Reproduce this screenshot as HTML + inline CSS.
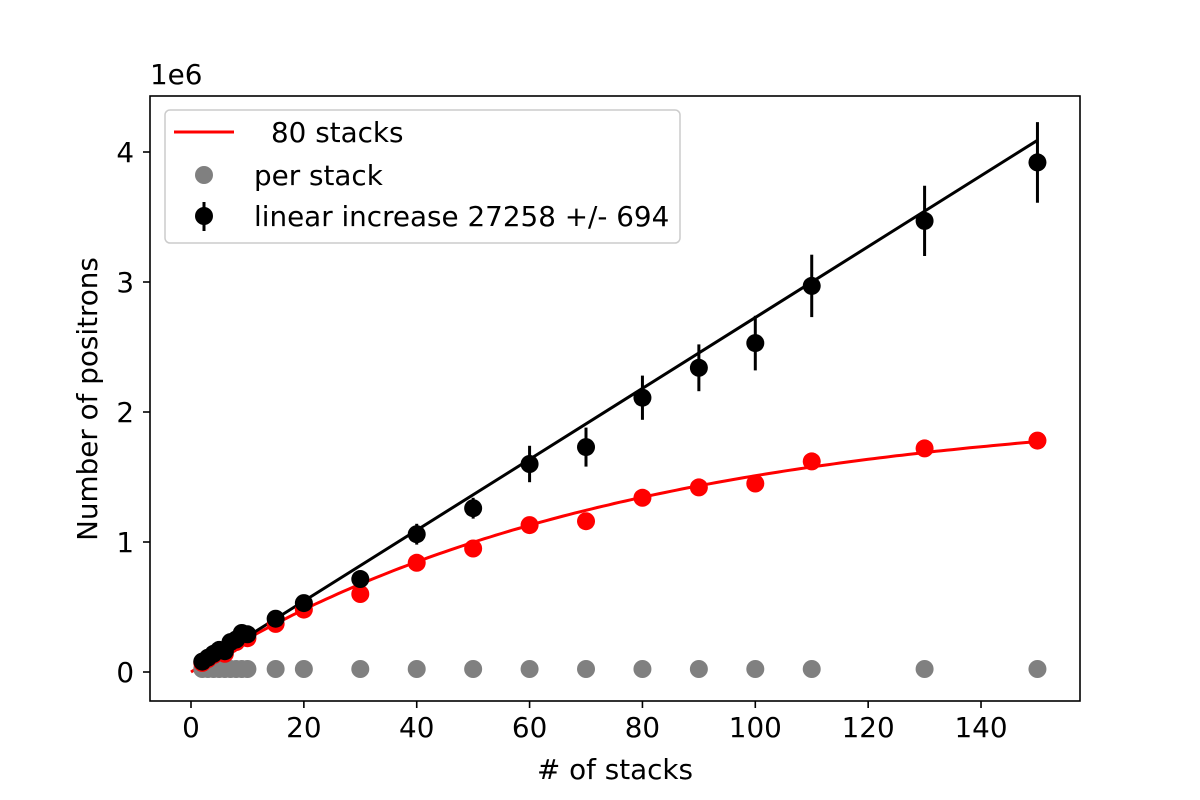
<!DOCTYPE html>
<html><head><meta charset="utf-8"><style>body{margin:0;background:#fff}svg{display:block}text{font-family:"DejaVu Sans","Liberation Sans",sans-serif;font-size:27.8px;fill:#000}</style></head>
<body>
<svg id="s" width="1200" height="800" xmlns="http://www.w3.org/2000/svg">
<rect width="1200" height="800" fill="#fff"/>
<g id="plot"></g>
<rect x="150" y="96" width="930" height="605" fill="none" stroke="#000" stroke-width="1.6"/>
<g id="ticks"></g>
<text x="150" y="84">1e6</text>
<text x="615" y="779" text-anchor="middle"># of stacks</text>
<text transform="translate(97,399) rotate(-90)" text-anchor="middle">Number of positrons</text>
<rect x="165" y="110" width="515" height="133" rx="5" fill="#fff" fill-opacity="0.85" stroke="#ccc" stroke-width="1.5"/>
<line x1="174" y1="132" x2="234" y2="132" stroke="red" stroke-width="3"/>
<text x="271" y="142">80 stacks</text>
<circle cx="204" cy="175" r="9" fill="gray"/>
<text x="254" y="185">per stack</text>
<circle cx="204" cy="216" r="9" fill="#000"/>
<line x1="204" y1="202" x2="204" y2="231" stroke="#000" stroke-width="3"/>
<text x="254" y="226">linear increase 27258 +/- 694</text>
</svg>
<script>
const X=x=>191+5.643*x, Y=v=>672-130*v;
const ns="http://www.w3.org/2000/svg";
const P=document.getElementById('plot'),T=document.getElementById('ticks');
function el(p,t,a){const e=document.createElementNS(ns,t);for(const k in a)e.setAttribute(k,a[k]);p.appendChild(e);return e;}
for(let x=0;x<=140;x+=20){el(T,'line',{x1:X(x),y1:701,x2:X(x),y2:708,stroke:'#000','stroke-width':1.6});const t=el(T,'text',{x:X(x),y:737,'text-anchor':'middle'});t.textContent=x;}
for(let v=0;v<=4;v++){el(T,'line',{x1:143,y1:Y(v),x2:150,y2:Y(v),stroke:'#000','stroke-width':1.6});const t=el(T,'text',{x:134,y:Y(v)+10,'text-anchor':'end'});t.textContent=v;}
let d='';for(let x=0;x<=150;x+=1){const v=2.05*(1-Math.exp(-x/75));d+=(x?'L':'M')+X(x).toFixed(1)+','+Y(v).toFixed(1);}
el(P,'path',{d:d,fill:'none',stroke:'red','stroke-width':3});
el(P,'line',{x1:X(2),y1:Y(0.055),x2:X(150),y2:Y(4.09),stroke:'#000','stroke-width':3});
const gx=[2,3,4,5,6,7,8,9,10,15,20,30,40,50,60,70,80,90,100,110,130,150];
gx.forEach(x=>el(P,'circle',{cx:X(x),cy:669,r:9,fill:'gray'}));
const red=[[2,0.07],[3,0.1],[4,0.13],[5,0.15],[6,0.14],[7,0.21],[8,0.23],[9,0.27],[10,0.26],[15,0.37],[20,0.48],[30,0.6],[40,0.84],[50,0.95],[60,1.13],[70,1.16],[80,1.34],[90,1.42],[100,1.45],[110,1.62],[130,1.72],[150,1.78]];
red.forEach(([x,v])=>el(P,'circle',{cx:X(x),cy:Y(v),r:9,fill:'red'}));
const blk=[[2,0.08,0.01],[3,0.11,0.01],[4,0.14,0.01],[5,0.17,0.02],[6,0.16,0.02],[7,0.23,0.02],[8,0.25,0.02],[9,0.30,0.03],[10,0.29,0.03],[15,0.41,0.03],[20,0.53,0.04],[30,0.715,0.06],[40,1.06,0.08],[50,1.26,0.08],[60,1.6,0.14],[70,1.73,0.15],[80,2.11,0.17],[90,2.34,0.18],[100,2.53,0.21],[110,2.97,0.24],[130,3.47,0.27],[150,3.92,0.31]];
blk.forEach(([x,v,e])=>{el(P,'line',{x1:X(x),y1:Y(v-e),x2:X(x),y2:Y(v+e),stroke:'#000','stroke-width':3});el(P,'circle',{cx:X(x),cy:Y(v),r:9,fill:'#000'});});
</script>
</body></html>
